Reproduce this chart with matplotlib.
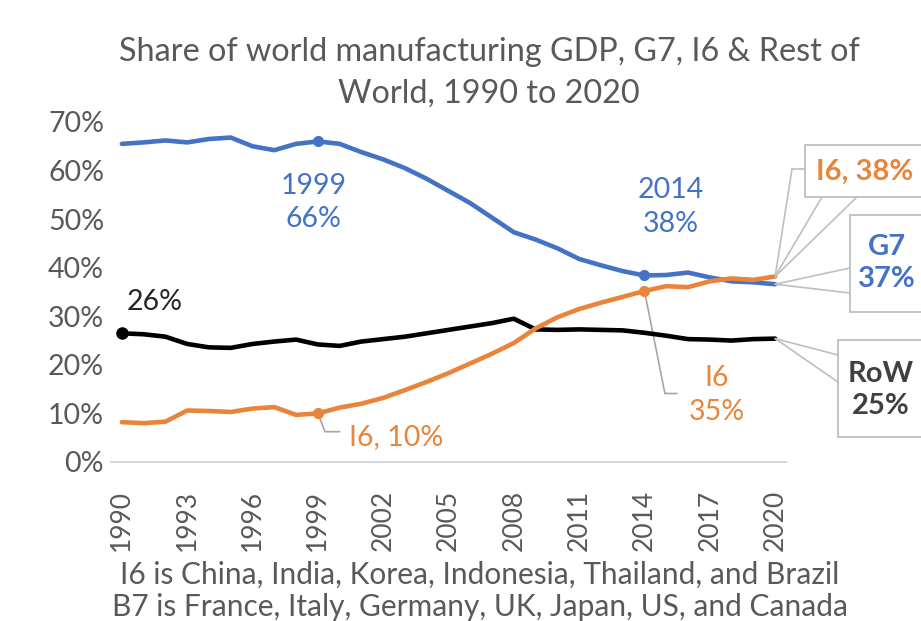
import matplotlib.pyplot as plt
from matplotlib.patches import Rectangle, ConnectionPatch

plt.rcParams['font.family'] = ['Lato', 'DejaVu Sans']

years = list(range(1990, 2021))
g7 = [65.5, 65.8, 66.2, 65.8, 66.5, 66.8, 65.0, 64.2, 65.5, 66.0,
      65.5, 63.8, 62.3, 60.5, 58.3, 55.8, 53.3, 50.3, 47.3, 45.8,
      44.0, 41.8, 40.5, 39.3, 38.4, 38.5, 39.0, 38.0, 37.2, 37.0, 36.6]
i6 = [8.2, 8.0, 8.3, 10.6, 10.5, 10.3, 11.0, 11.3, 9.7, 10.0,
      11.2, 12.0, 13.2, 14.8, 16.5, 18.3, 20.3, 22.3, 24.5, 27.5,
      29.8, 31.5, 32.8, 34.0, 35.2, 36.2, 36.0, 37.2, 37.8, 37.5, 38.2]
row = [26.5, 26.3, 25.8, 24.3, 23.6, 23.5, 24.3, 24.8, 25.2, 24.2,
       23.9, 24.8, 25.3, 25.8, 26.5, 27.2, 27.9, 28.6, 29.5, 27.3,
       27.2, 27.3, 27.2, 27.1, 26.6, 26.0, 25.3, 25.2, 25.0, 25.3, 25.4]
tick_years = list(range(1990, 2021, 3))
y_ticks = [0, 10, 20, 30, 40, 50, 60, 70]

BLUE = '#4472C4'
ORANGE = '#E9843A'
GREY = '#595959'
LEAD = '#A6A6A6'

W, H = 921, 621
def fp(x, y):
    # pixel position (from top left) -> figure fraction
    return (x / W, 1 - y / H)

fig = plt.figure(figsize=(W / 100, H / 100), dpi=100)
ax = fig.add_axes([111 / W, 1 - 462 / H, 675 / W, 340 / H])

ax.plot(years, g7, color=BLUE, lw=3.3, solid_capstyle='round', zorder=3)
ax.plot(years, i6, color=ORANGE, lw=3.3, solid_capstyle='round', zorder=4)
ax.plot(years, row, color='black', lw=3.3, solid_capstyle='round', zorder=2)

def idx(y):
    return years.index(y)

ax.plot([1999, 2014], [g7[idx(1999)], g7[idx(2014)]], 'o', color=BLUE, ms=7, zorder=5)
ax.plot([1999, 2014], [i6[idx(1999)], i6[idx(2014)]], 'o', color=ORANGE, ms=7, zorder=5)
ax.plot([1990], [row[0]], 'o', color='black', ms=8, zorder=5)

ax.set_xlim(1989.5, 2020.5)
ax.set_ylim(0, 70)
ax.set_xticks(tick_years)
ax.set_xticklabels([str(y) for y in tick_years], rotation=90, va='top')
ax.set_yticks(y_ticks)
ax.set_yticklabels([f'{v}%' for v in y_ticks])
ax.tick_params(axis='both', length=0, labelsize=20.5, labelcolor=GREY)
ax.tick_params(axis='x', labelsize=19, pad=20)
ax.tick_params(axis='y', pad=5)
for s in ['top', 'right', 'left']:
    ax.spines[s].set_visible(False)
ax.spines['bottom'].set_color('#D9D9D9')
ax.spines['bottom'].set_linewidth(1.5)

# in-chart labels
ax.text(1998.8, 53.4, f'1999\n{g7[idx(1999)]:.0f}%', color=BLUE, fontsize=20.5,
        ha='center', va='center', linespacing=1.35)
ax.text(2015.2, 52.5, f'2014\n{g7[idx(2014)]:.0f}%', color=BLUE, fontsize=20.5,
        ha='center', va='center', linespacing=1.35)
ax.text(1991.5, 32.9, f'{row[0]:.0f}%', color='#262626', fontsize=20.5,
        ha='center', va='center')
ax.text(2000.45, 5.2, f'I6, {i6[idx(1999)]:.0f}%', color=ORANGE, fontsize=20.5,
        ha='left', va='center')
ax.plot([1999, 1999.33, 2000.0], [i6[idx(1999)], 6.24, 6.24], color=LEAD, lw=1.2, zorder=1)
ax.text(2017.3, 13.8, f'I6\n{i6[idx(2014)]:.0f}%', color=ORANGE, fontsize=20.5,
        ha='center', va='center', linespacing=1.35)
ax.plot([2014, 2014.94, 2015.48], [i6[idx(2014)], 14.1, 14.1], color=LEAD, lw=1.2, zorder=1)

# end-of-line callouts
def callout(box, wedge, end_val, lead=None):
    x0, y0, x1, y1 = box
    l, b = fp(x0, y1)
    r, t = fp(x1, y0)
    fig.patches.append(Rectangle((l, b), r - l, t - b, transform=fig.transFigure,
                                 facecolor='white', edgecolor='#BFBFBF', lw=1.3, zorder=1))
    for px, py in wedge:
        fig.add_artist(ConnectionPatch(xyA=(2020, end_val), coordsA=ax.transData,
                                       xyB=fp(px, py), coordsB=fig.transFigure,
                                       color='#BFBFBF', lw=1.2))
    if lead:
        pts = [fp(*p) for p in lead]
        fig.add_artist(ConnectionPatch(xyA=(2020, end_val), coordsA=ax.transData,
                                       xyB=pts[0], coordsB=fig.transFigure,
                                       color='#BFBFBF', lw=1.2))
        fig.add_artist(plt.Line2D([pts[0][0], pts[1][0]], [pts[0][1], pts[1][1]],
                                  transform=fig.transFigure, color='#BFBFBF', lw=1.2))

callout((805, 145, 935, 197), [(822, 197), (857, 197)], i6[-1], lead=[(792, 169), (805, 169)])
callout((850, 215, 935, 312), [(850, 268), (850, 293)], g7[-1])
callout((838, 340, 935, 437), [(838, 355), (838, 382)], row[-1])

fig.text(*fp(865, 172), f'I6, {i6[-1]:.0f}%', color=ORANGE, fontsize=21,
         fontweight='bold', ha='center', va='center')
fig.text(*fp(887, 263), f'G7\n{g7[-1]:.0f}%', color=BLUE, fontsize=21,
         fontweight='bold', ha='center', va='center', linespacing=1.3)
fig.text(*fp(881, 390), f'RoW\n{row[-1]:.0f}%', color='#404040', fontsize=21,
         fontweight='bold', ha='center', va='center', linespacing=1.3)

fig.text(*fp(489, 73), 'Share of world manufacturing GDP, G7, I6 & Rest of\nWorld, 1990 to 2020',
         color=GREY, fontsize=23.3, ha='center', va='center', linespacing=1.5)
fig.text(*fp(480, 591), 'I6 is China, India, Korea, Indonesia, Thailand, and Brazil\n'
         'B7 is France, Italy, Germany, UK, Japan, US, and Canada',
         color=GREY, fontsize=21.5, ha='center', va='center', linespacing=1.2)

fig.savefig('out.png', dpi=100, facecolor='white')
